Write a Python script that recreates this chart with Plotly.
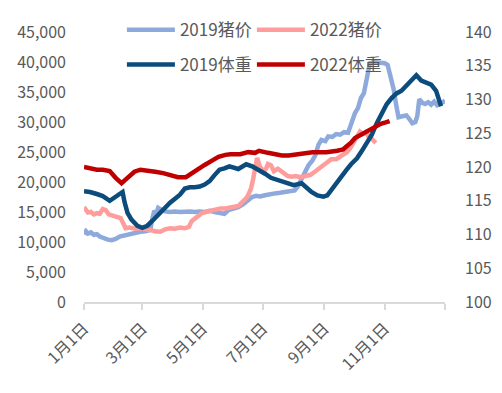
import pandas as pd
import plotly.graph_objects as go

# ---- data (day of year offset from Jan 1, value) ----
price2019_days = [0, 2, 4, 7, 10, 13, 16, 20, 24, 28, 32, 36, 41, 47, 52, 57, 62, 67, 69, 71, 73, 75, 78, 82, 87, 92, 97, 102, 107, 112, 117, 122, 127, 132, 137, 142, 146, 151, 156, 161, 166, 170, 174, 178, 183, 188, 193, 198, 203, 208, 213, 216, 220, 224, 227, 231, 234, 237, 240, 244, 247, 251, 255, 259, 263, 267, 271, 274, 277, 280, 283, 286, 289, 293, 297, 301, 304, 307, 310, 313, 316, 318, 323, 326, 329, 332, 335, 337, 339, 342, 345, 348, 351, 354, 357, 360, 363, 365]
price2019 = [11300, 11800, 11400, 11600, 11200, 11300, 10900, 10600, 10400, 10300, 10500, 10900, 11100, 11400, 11600, 11700, 11800, 12000, 13800, 15200, 14700, 15700, 15400, 15100, 15000, 15100, 15000, 15100, 15100, 15000, 15100, 15000, 15200, 15000, 14900, 14700, 15300, 15600, 15800, 16300, 17000, 17500, 17700, 17600, 17800, 18000, 18100, 18200, 18300, 18500, 18600, 19200, 20500, 21500, 22800, 23600, 24500, 26200, 27000, 26800, 27600, 27500, 28000, 27900, 28300, 28200, 30000, 31500, 32300, 34000, 34800, 37500, 39800, 40000, 39900, 39700, 39800, 39500, 37500, 35500, 32500, 30800, 31000, 31100, 30500, 29800, 30000, 31000, 33800, 33200, 33000, 33300, 32900, 33400, 32800, 33200, 33300, 33600]

price2022_days = [0, 2, 4, 7, 10, 13, 16, 19, 22, 25, 29, 33, 37, 40, 42, 46, 52, 57, 62, 67, 72, 77, 82, 87, 92, 97, 102, 106, 109, 119, 123, 128, 133, 138, 143, 148, 152, 156, 159, 162, 165, 167, 169, 171, 173, 175, 178, 182, 184, 186, 189, 192, 196, 201, 206, 210, 214, 219, 224, 229, 234, 240, 245, 250, 255, 259, 263, 266, 269, 272, 275, 279, 282, 285, 288, 291, 295]
price2022 = [15800, 15200, 14900, 15000, 14600, 14800, 14700, 15500, 15300, 14600, 14400, 14200, 14000, 13000, 12300, 12400, 12200, 12300, 12200, 12000, 11800, 11700, 12100, 12300, 12200, 12400, 12300, 12500, 13500, 14800, 15000, 15200, 15500, 15600, 15600, 15700, 15800, 16000, 16500, 17000, 17500, 18200, 19000, 20500, 22300, 24000, 22500, 21800, 22200, 23000, 22800, 21800, 22200, 21500, 21000, 20900, 21000, 20800, 21100, 21200, 21800, 22500, 23000, 23800, 23800, 24300, 24600, 25000, 25600, 26500, 27500, 28400, 28000, 28300, 27500, 27200, 26500]

weight2019_days = [0, 6, 13, 19, 26, 32, 39, 41, 44, 48, 54, 59, 64, 69, 74, 80, 87, 92, 97, 102, 107, 112, 117, 122, 127, 132, 137, 142, 147, 156, 159, 164, 170, 177, 183, 189, 195, 202, 210, 212, 220, 225, 230, 236, 242, 246, 250, 255, 260, 265, 270, 276, 281, 286, 291, 296, 301, 306, 311, 316, 321, 326, 331, 336, 341, 346, 351, 356, 361]
weight2019 = [116.4, 116.3, 116.0, 115.7, 115.0, 115.6, 116.3, 114.8, 113.2, 112.2, 111.3, 111.0, 111.3, 112.0, 112.8, 113.6, 114.7, 115.3, 115.9, 116.8, 117.0, 117.0, 117.1, 117.4, 117.9, 118.8, 119.6, 119.8, 120.1, 119.7, 120.0, 120.4, 120.1, 119.6, 119.0, 118.4, 118.1, 117.7, 117.3, 117.3, 117.6, 117.0, 116.3, 115.8, 115.6, 115.8, 116.6, 117.7, 118.7, 119.5, 120.4, 121.3, 122.4, 123.5, 124.8, 126.5, 128.0, 129.3, 130.2, 130.9, 131.3, 132.0, 132.8, 133.6, 132.8, 132.5, 132.2, 131.3, 129.0]

weight2022_days = [0, 6, 13, 19, 26, 32, 38, 44, 51, 57, 64, 72, 80, 87, 95, 103, 109, 115, 122, 129, 136, 143, 148, 158, 166, 173, 177, 186, 193, 200, 207, 215, 223, 231, 239, 245, 256, 262, 265, 270, 274, 283, 289, 294, 300, 305, 309]
weight2022 = [120.0, 119.8, 119.6, 119.6, 119.4, 118.4, 117.6, 118.4, 119.3, 119.6, 119.5, 119.3, 119.1, 118.8, 118.5, 118.5, 119.1, 119.8, 120.3, 120.9, 121.5, 121.8, 121.9, 121.9, 122.2, 122.1, 122.4, 122.1, 121.9, 121.7, 121.7, 121.9, 122.1, 122.2, 122.2, 122.2, 122.4, 122.6, 123.0, 123.6, 124.3, 125.0, 125.5, 126.0, 126.4, 126.6, 126.8]

tick_dates = ["2019-01-01", "2019-03-01", "2019-05-01", "2019-07-01", "2019-09-01", "2019-11-01", "2020-01-01"]
tick_text = ["1月1日", "3月1日", "5月1日", "7月1日", "9月1日", "11月1日", ""]

base = pd.Timestamp("2019-01-01")
def to_dates(days):
    return [base + pd.Timedelta(days=d) for d in days]

FONT = "Noto Sans CJK SC"
GREY = "#595959"

fig = go.Figure()
fig.add_trace(go.Scatter(x=to_dates(price2019_days), y=price2019, name="2019猪价", mode="lines",
                         line=dict(color="#8EA9DB", width=4.5), legend="legend"))
fig.add_trace(go.Scatter(x=to_dates(price2022_days), y=price2022, name="2022猪价", mode="lines",
                         line=dict(color="#FF9D9D", width=4.5), legend="legend"))
fig.add_trace(go.Scatter(x=to_dates(weight2019_days), y=weight2019, name="2019体重", mode="lines",
                         line=dict(color="#0B4C7C", width=4.5), yaxis="y2", legend="legend2"))
fig.add_trace(go.Scatter(x=to_dates(weight2022_days), y=weight2022, name="2022体重", mode="lines",
                         line=dict(color="#C00000", width=4.5), yaxis="y2", legend="legend2"))

legend_common = dict(orientation="h", xanchor="left", yanchor="middle", x=0.105,
                     font=dict(family=FONT, size=17, color=GREY), bgcolor="rgba(0,0,0,0)",
                     entrywidth=67, entrywidthmode="pixels", itemwidth=48,
                     tracegroupgap=0, itemclick=False)

fig.update_layout(
    template="none",
    width=494, height=385,
    margin=dict(l=76, r=57, t=24, b=91, autoexpand=False),
    paper_bgcolor="white", plot_bgcolor="white",
    font=dict(family=FONT, size=16, color=GREY),
    showlegend=True,
    legend=dict(**legend_common, y=1.007),
    legend2=dict(**legend_common, y=0.878),
    xaxis=dict(type="date", range=["2019-01-01", "2020-01-01"], tickvals=tick_dates, ticktext=tick_text,
               tickangle=-45, showgrid=False, showline=True, linecolor="#D9D9D9", linewidth=1.5,
               ticks="outside", ticklen=6, tickcolor="#D9D9D9", tickwidth=1.5, automargin=False,
               ticklabelstandoff=3,
               tickfont=dict(family=FONT, size=16, color=GREY), zeroline=False),
    yaxis=dict(range=[0, 45000], dtick=5000, tickformat=",", showgrid=False, zeroline=False,
               showline=False, ticks="", ticklabelstandoff=17, automargin=False,
               tickfont=dict(family=FONT, size=16, color=GREY)),
    yaxis2=dict(range=[100, 140], dtick=5, overlaying="y", side="right", showgrid=False,
                zeroline=False, showline=False, ticks="", ticklabelstandoff=19, automargin=False,
                tickfont=dict(family=FONT, size=16, color=GREY)),
)

fig.write_html("out.html")
